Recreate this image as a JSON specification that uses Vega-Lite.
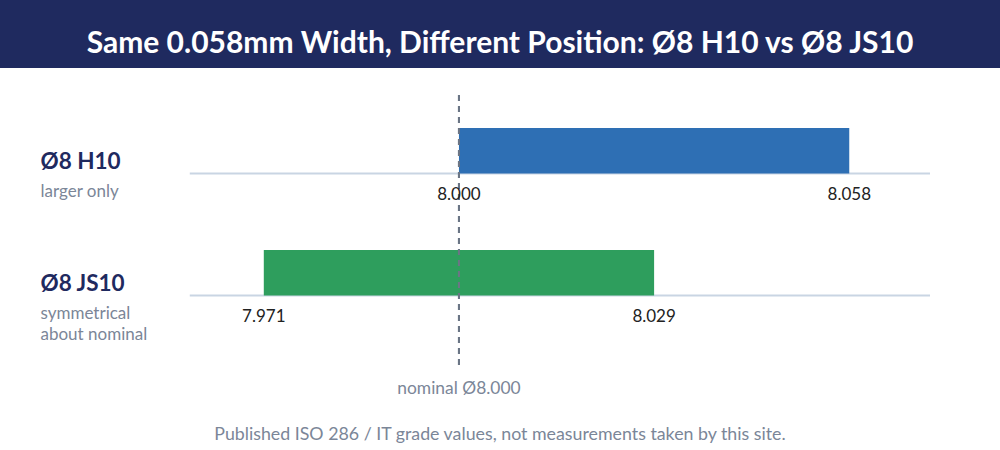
{
  "$schema": "https://vega.github.io/schema/vega-lite/v6.json",
  "padding": 0,
  "spacing": 0,
  "background": "white",
  "config": {
    "view": {"stroke": null},
    "font": "Lato"
  },
  "vconcat": [
    {
      "width": 1000,
      "height": 68,
      "view": {"fill": "#1f2a5f", "stroke": null},
      "data": {"values": [{"title": "Same 0.058mm Width, Different Position: Ø8 H10 vs Ø8 JS10"}]},
      "mark": {"type": "text", "color": "white", "fontSize": 30, "fontWeight": "bold", "baseline": "alphabetic", "dy": 19},
      "encoding": {"text": {"field": "title"}}
    },
    {
      "width": 1000,
      "height": 342,
      "data": {
        "values": [
          {"tol": "Ø8 H10", "lo": 8.000, "hi": 8.058},
          {"tol": "Ø8 JS10", "lo": 7.971, "hi": 8.029}
        ]
      },
      "resolve": {"axis": {"y": "independent"}},
      "layer": [
        {
          "mark": {"type": "rule", "color": "#c9d5e3", "strokeWidth": 2},
          "encoding": {
            "x": {"datum": 7.96, "type": "quantitative", "scale": {"domain": [7.9318, 8.0804], "nice": false, "zero": false}, "axis": null},
            "x2": {"datum": 8.07},
            "y": {
              "field": "tol", "type": "nominal", "bandPosition": 1,
              "scale": {"paddingInner": 0.627, "paddingOuter": 0.715, "align": 0.344},
              "axis": {
                "orient": "left", "offset": -40, "title": null, "domain": false, "ticks": false, "tickSize": 0, "grid": false,
                "labelAlign": "left", "labelPadding": 0, "labelBaseline": "alphabetic", "labelOffset": 46, "bandPosition": 0.5,
                "labelFontSize": 17, "labelColor": "#7b8698", "labelLineHeight": 21,
                "labelExpr": "datum.value == 'Ø8 H10' ? 'larger only' : ['symmetrical', 'about nominal']"
              }
            }
          }
        },
        {
          "mark": {"type": "bar"},
          "encoding": {
            "x": {"field": "lo", "type": "quantitative"},
            "x2": {"field": "hi"},
            "y": {
              "field": "tol", "type": "nominal",
              "axis": {
                "orient": "left", "offset": -40, "title": null, "domain": false, "ticks": false, "tickSize": 0, "grid": false,
                "labelAlign": "left", "labelPadding": 0, "labelBaseline": "alphabetic", "labelOffset": 18.5, "bandPosition": 0.5,
                "labelFontSize": 22.5, "labelFontWeight": "bold", "labelColor": "#1f2a5f"
              }
            },
            "color": {"field": "tol", "type": "nominal", "scale": {"range": ["#2e6fb4", "#2e9e5d"]}, "legend": null}
          }
        },
        {
          "mark": {"type": "rule", "color": "#6b7585", "strokeWidth": 2, "strokeDash": [6, 5]},
          "encoding": {
            "x": {"datum": 8.0, "type": "quantitative"},
            "y": {"datum": "Ø8 H10", "type": "nominal", "bandPosition": -0.725, "axis": null},
            "y2": {"datum": "Ø8 JS10", "bandPosition": 2.615}
          }
        },
        {
          "mark": {"type": "text", "fontSize": 17, "color": "#222222", "baseline": "alphabetic", "dy": 26.5},
          "encoding": {
            "x": {"field": "lo", "type": "quantitative"},
            "y": {"field": "tol", "type": "nominal", "bandPosition": 1, "axis": null},
            "text": {"field": "lo", "type": "quantitative", "format": ".3f"}
          }
        },
        {
          "mark": {"type": "text", "fontSize": 17, "color": "#222222", "baseline": "alphabetic", "dy": 26.5},
          "encoding": {
            "x": {"field": "hi", "type": "quantitative"},
            "y": {"field": "tol", "type": "nominal", "bandPosition": 1, "axis": null},
            "text": {"field": "hi", "type": "quantitative", "format": ".3f"}
          }
        },
        {
          "data": {"values": [{"label": "nominal Ø8.000", "at": 8.0, "row": "Ø8 JS10"}]},
          "mark": {"type": "text", "fontSize": 17.4, "color": "#7b8698", "baseline": "alphabetic"},
          "encoding": {
            "x": {"field": "at", "type": "quantitative"},
            "y": {"field": "row", "type": "nominal", "bandPosition": 3.165, "axis": null},
            "text": {"field": "label"}
          }
        }
      ]
    },
    {
      "width": 1000,
      "height": 40,
      "data": {"values": [{"note": "Published ISO 286 / IT grade values, not measurements taken by this site."}]},
      "mark": {"type": "text", "color": "#7b8698", "fontSize": 17.8, "baseline": "alphabetic", "dy": 10},
      "encoding": {"text": {"field": "note"}}
    }
  ]
}
